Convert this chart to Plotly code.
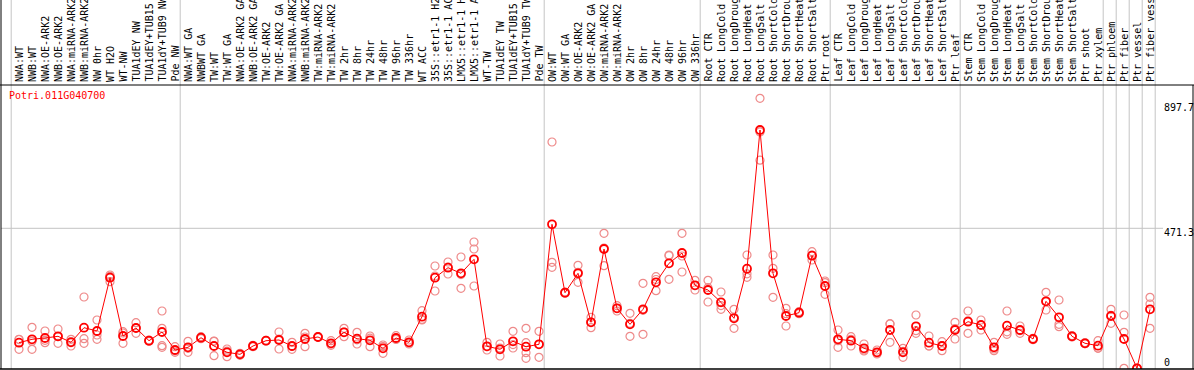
import plotly.graph_objects as go

gene = "Potri.011G040700"

labels = [
    "NWA:WT", "NWB:WT", "NWA:OE-ARK2", "NWB:OE-ARK2", "NWA:miRNA-ARK2", "NWB:miRNA-ARK2",
    "NW 0hr", "WT H2O", "WT-NW", "TUA1dEY NW", "TUA1dEY+TUB15 NW", "TUA1dY+TUB9 NW", "Pde NW",
    "NWA:WT GA", "NWBWT GA", "TW:WT", "TW:WT GA", "NWA:OE-ARK2 GA", "NWB:OE-ARK2 GA",
    "TW:OE-ARK2", "TW:OE-ARK2 GA", "NWA:miRNA-ARK2 GA", "NWB:miRNA-ARK2 GA", "TW:miRNA-ARK2",
    "TW:miRNA-ARK2 GA", "TW 2hr", "TW 8hr", "TW 24hr", "TW 48hr", "TW 96hr", "TW 336hr",
    "WT ACC", "35S::etr1-1 H2O", "35S::etr1-1 ACC", "LMX5::etr1-1 H2O", "LMX5::etr1-1 ACC",
    "WT-TW", "TUA1dEY TW", "TUA1dEY+TUB15 TW", "TUA1dY+TUB9 TW", "Pde TW",
    "OW:WT", "OW:WT GA", "OW:OE-ARK2", "OW:OE-ARK2 GA", "OW:miRNA-ARK2", "OW:miRNA-ARK2 GA",
    "OW 2hr", "OW 8hr", "OW 24hr", "OW 48hr", "OW 96hr", "OW 336hr",
    "Root CTR", "Root LongCold", "Root LongDrought", "Root LongHeat", "Root LongSalt",
    "Root ShortCold", "Root ShortDrought", "Root ShortHeat", "Root ShortSalt", "Ptr root",
    "Leaf CTR", "Leaf LongCold", "Leaf LongDrought", "Leaf LongHeat", "Leaf LongSalt",
    "Leaf ShortCold", "Leaf ShortDrought", "Leaf ShortHeat", "Leaf ShortSalt", "Ptr leaf",
    "Stem CTR", "Stem LongCold", "Stem LongDrought", "Stem LongHeat", "Stem LongSalt",
    "Stem ShortCold", "Stem ShortDrought", "Stem ShortHeat", "Stem ShortSalt", "Ptr shoot",
    "Ptr xylem", "Ptr phloem", "Ptr fiber", "Ptr vessel", "Ptr fiber vessel",
]

means = [
    86.2, 97.6, 102, 107.7, 87.5, 136.7, 125.6, 305, 108.7, 135.7, 92.9, 122.2, 61.6,
    70.7, 103, 75.1, 53.9, 47.1, 75.1, 92.9, 95.3, 75.1, 98.6, 105.4, 84.2, 121.2, 99.6,
    94.3, 67.3, 102, 87.5, 173.7, 305, 338.7, 319.8, 366.9, 74.1, 64, 90.9, 72.7, 80.8,
    484.8, 254.5, 319.8, 154.9, 401.6, 202, 148.1, 198.6, 289.5, 353.5, 388.1, 279.4,
    263.6, 222.2, 168.3, 335.3, 802.2, 319.8, 176.1, 187.2, 379.1, 277.1,
    97.6, 92.9, 67.3, 53.9, 128.9, 53.9, 141.4, 86.2, 75.1, 128.9,
    156.9, 145.8, 70.7, 143.4, 128.9, 98.6, 225.5, 171.7, 107.7, 84.2, 76.1,
    176.1, 98.6, 0, 198.6,
]

replicates = [
    [97.6, 64, 97], [138, 64, 90.9], [125.6, 86.2, 94.3], [132.3, 84.2, 106.7],
    [97.6, 75.1, 89.9], [240, 99.6, 84.2], [162.6, 112.1, 97.6], [314.1, 291.5, 309.4],
    [123.2, 84.2, 118.8], [153.5, 117.8, 135.7], [95.3, 90.9, 93], [192.9, 134.7, 76.1, 70.7],
    [72.7, 53.9, 58.2], [90.9, 53.9, 67.3], [106.4, 99.6, 103], [90.9, 42.4, 91.9],
    [65, 39, 57.5], [50.5, 43.8, 47.1], [72.7, 77.4, 75.1], [93, 94.3, 91.9],
    [122.2, 65, 98.6], [87.5, 64, 73.7], [117.8, 72.7, 105.4], [104.4, 106.4, 105.4],
    [92.9, 77.4, 81.8], [134.7, 106.4, 122.2], [121.2, 81.8, 95.9], [108.7, 72.7, 101.3],
    [78.4, 50.5, 73], [109.7, 97, 99.3], [95.3, 85.2, 81.8], [193.9, 162.6, 164.6],
    [344.4, 260.2, 310.7], [357.8, 317.4, 341], [374.7, 269.3, 315.4], [425.2, 401.6, 277.1],
    [87.5, 61.6, 73], [81.8, 41.4, 68.3], [124.6, 68.3, 79.8], [134.7, 86.2, 52.5, 33.7],
    [124.6, 37, 80.8], [761.8, 356.8, 340], [252.5, 256.9, 254.6], [346.7, 289.5, 323.2],
    [171.7, 136.7, 155.9], [454.5, 345.4, 405], [210.7, 192.9, 202], [185.2, 107.7, 151.5],
    [286.1, 114.5, 195.3], [308.4, 261.2, 298.9], [379.1, 299.6, 381.4], [454.5, 378, 324.2],
    [296.2, 263.6, 278.4], [296.2, 223.2, 271.3], [256.9, 198.6, 211.1], [198.6, 134.7, 171.7],
    [381.4, 306.3, 318.1], [908.9, 700.6, 795.9], [381.4, 336.6, 239], [202, 142.4, 183.8],
    [190.5, 183.8, 187.2], [392.5, 381.4, 364.6], [293.9, 249.1, 288.2],
    [128.9, 70.7, 92.9], [106.4, 75.1, 97.6], [81.8, 61.6, 58.2], [61.6, 51.5, 48.1],
    [149.1, 87.5, 150.1], [67.3, 37, 56.9], [179.4, 117.8, 126.6], [108.7, 75.1, 75.1],
    [89.5, 59.2, 76.4], [154.9, 98.6, 133.3],
    [192.9, 117.8, 159.9], [162.6, 128.9, 145.8], [87.5, 59.2, 65], [192.9, 114.5, 122.9],
    [142.4, 117.8, 126.6], [101, 96.3, 98.6], [255.8, 196.3, 224.5], [229.9, 148.1, 140],
    [109.7, 105.4, 107.7], [86.2, 82.8, 83.5], [92.9, 67.3, 68.3],
    [198.6, 151.5, 178.1], [179.4, 121.2, 0], [0, 0, 0], [239, 216.5, 134.7],
]

# group boundaries (index of first sample of each group, plus end)
group_starts = [0, 13, 41, 53, 63, 73, 84, 85, 86, 87, 88]
y_ticks = [0, 471.3, 897.7]
y_tick_labels = ["0", "471.3", "897.7"]

W, H = 1194, 370
MONO = "DejaVu Sans Mono"
GRID = "#c4c4c4"

fig = go.Figure()

rx, ry = [], []
for i, r in enumerate(replicates):
    for v in r:
        rx.append(i)
        ry.append(v)

fig.add_trace(go.Scatter(
    x=rx, y=ry, mode="markers",
    marker=dict(symbol="circle-open", size=8, color="#ee8a8a", line=dict(width=1.2)),
    hoverinfo="skip", showlegend=False,
))
fig.add_trace(go.Scatter(
    x=list(range(len(means))), y=means, mode="lines+markers",
    line=dict(color="#ff0000", width=1),
    marker=dict(symbol="circle-open", size=8, color="#ff0000", line=dict(width=1.8)),
    showlegend=False,
))

shapes = []
for b in group_starts:
    shapes.append(dict(type="line", xref="x", yref="paper", x0=b - 0.6, x1=b - 0.6,
                       y0=0, y1=1, line=dict(color=GRID, width=1), layer="below"))
shapes.append(dict(type="line", xref="x", yref="y", x0=-1.5, x1=88.0,
                   y0=y_ticks[1], y1=y_ticks[1], line=dict(color=GRID, width=1), layer="below"))
top_line = (369 - 85) / 369
shapes += [
    dict(type="line", xref="paper", yref="paper", x0=-0.01, x1=1.01, y0=top_line, y1=top_line,
         line=dict(color="black", width=1)),
    dict(type="line", xref="paper", yref="paper", x0=0, x1=0, y0=0, y1=1,
         line=dict(color="black", width=1)),
    dict(type="line", xref="paper", yref="paper", x0=1, x1=1, y0=0, y1=top_line,
         line=dict(color="black", width=1)),
    dict(type="line", xref="paper", yref="paper", x0=-0.01, x1=1.01, y0=0, y1=0,
         line=dict(color="black", width=1.5)),
]

annotations = []
label_y = (369 - 84) / 369
for i, lab in enumerate(labels):
    annotations.append(dict(
        x=i, xref="x", y=label_y, yref="paper", text=lab, showarrow=False,
        textangle=-90, xanchor="center", yanchor="bottom",
        font=dict(family=MONO, size=10, color="black"),
    ))

annotations.append(dict(
    x=(7 - 1) / 1192, xref="paper", y=(369 - 96) / 369, yref="paper", text=gene,
    showarrow=False, xanchor="left", yanchor="middle",
    font=dict(family=MONO, size=10, color="#ff0000"),
))

shifts = [6, -4, -6]
for v, t, s in zip(y_ticks, y_tick_labels, shifts):
    annotations.append(dict(
        x=(1162 - 1) / 1192, xref="paper", y=v, yref="y", yshift=s, text=t,
        showarrow=False, xanchor="left", yanchor="middle",
        font=dict(family=MONO, size=10, color="black"),
    ))

fig.update_layout(
    width=W, height=H,
    margin=dict(l=1, r=1, t=0, b=1, pad=0),
    paper_bgcolor="white", plot_bgcolor="white",
    xaxis=dict(range=[-18 / 13, 1174 / 13], showgrid=False, zeroline=False,
               showticklabels=False, ticks="", showline=False, fixedrange=True),
    yaxis=dict(range=[-2.356, 1239.9], showgrid=False, zeroline=False,
               showticklabels=False, ticks="", showline=False, fixedrange=True),
    shapes=shapes,
    annotations=annotations,
    showlegend=False,
)

fig.write_html(
    "out.html",
    config={"displayModeBar": False, "staticPlot": True},
    post_script="document.body.style.margin='0';document.body.style.overflow='hidden';",
)
